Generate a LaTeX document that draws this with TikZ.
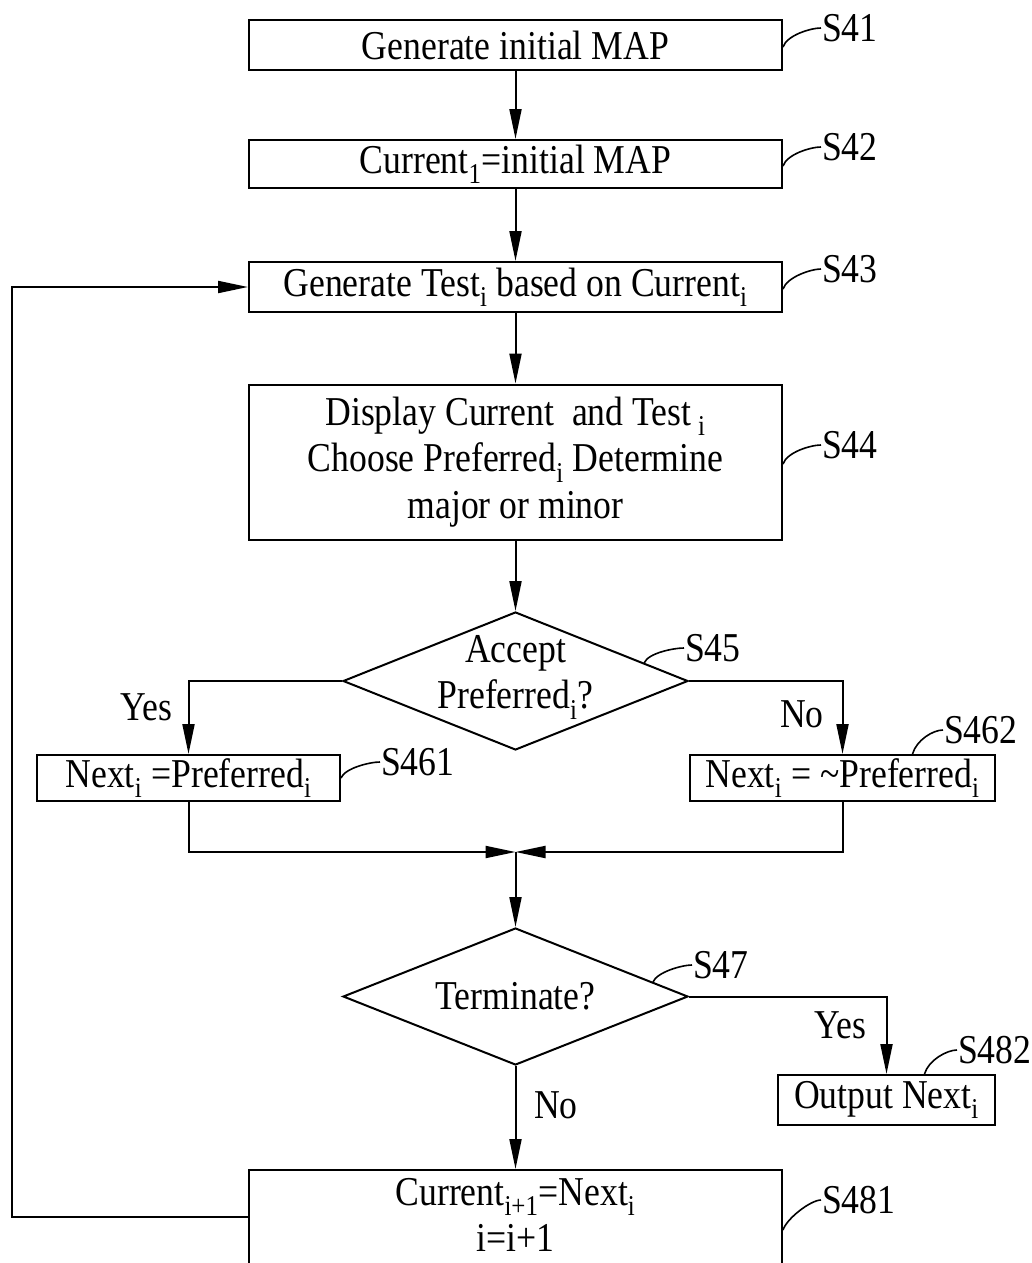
\documentclass[tikz,border=0pt]{standalone}
\usepackage{fontspec}
\setmainfont{Liberation Serif}[FakeStretch=0.87]
\usetikzlibrary{arrows.meta,shapes.geometric}
\newcommand{\ix}[1]{\textsubscript{#1}}

\begin{document}
\begin{tikzpicture}[x=1pt,y=-1pt,line width=2pt,
   font=\fontsize{41}{46.5}\selectfont,
   box/.style={draw,rectangle,minimum width=533pt,inner sep=0pt,align=center},
   dec/.style={draw,diamond,minimum width=345pt,minimum height=138pt,inner sep=0pt},
   arr/.style={-{Triangle[length=30pt,width=12pt]}},
   tag/.style={anchor=west,inner sep=0pt},
   hook/.style={line width=1.6pt}]
   \useasboundingbox (0,0) rectangle (1031,1263);
   % main column
   \node[box,minimum height=50pt] (s41) at (515.5,45) {Generate initial MAP};
   \node[box,minimum height=48pt] (s42) at (515.5,164) {Current\ix{1}=initial MAP};
   \node[box,minimum height=50pt] (s43) at (515.5,287) {Generate Test\ix{i} based on Current\ix{i}};
   \node[box,minimum height=155pt] (s44) at (515.5,462)
      {Display Current~~and Test\,\ix{i}\\Choose Preferred\ix{i} Determine\\major or minor};
   \node[dec] (s45) at (515.5,681) {};
   \node[align=center,inner sep=0pt] (t45) at (515.5,677) {Accept\\Preferred\ix{i}?};
   \node[box,minimum width=303pt,minimum height=46pt] (s461) at (188.5,778) {Next\ix{i} =Preferred\ix{i}};
   \node[box,minimum width=305pt,minimum height=46pt] (s462) at (842.5,778) {Next\ix{i} = \textasciitilde Preferred\ix{i}};
   \coordinate (join) at (515.5,852);
   \node[dec,minimum height=137pt] (s47) at (515.5,996.5) {};
   \node[inner sep=0pt] (t47) at (515.5,996) {Terminate?};
   \node[box,minimum width=217pt,minimum height=50pt] (s482) at (886.5,1100) {Output Next\ix{i}};
   \node[box,minimum height=110pt] (s481) at (515.5,1225)
      {Current\ix{i+1}=Next\ix{i}\\i=i+1\rule[-20pt]{0pt}{0pt}};
   \coordinate (back) at (12,1217);
   % step tags
   \node[tag] (l41) at (821,28) {S41};
   \node[tag] (l42) at (821,147) {S42};
   \node[tag] (l43) at (821,269) {S43};
   \node[tag] (l44) at (821,445) {S44};
   \node[tag] (l45) at (684,648) {S45};
   \node[tag] (l461) at (380,762) {S461};
   \node[tag] (l462) at (943,730) {S462};
   \node[tag] (l47) at (692,965) {S47};
   \node[tag] (l482) at (957,1050) {S482};
   \node[tag] (l481) at (821,1200) {S481};
   \draw[hook] ([yshift=-2pt]s41.east) .. controls +(4,-12) and +(-10,0) .. (l41.west);
   \draw[hook] ([yshift=-2pt]s42.east) .. controls +(4,-12) and +(-10,0) .. (l42.west);
   \draw[hook] ([yshift=-2pt]s43.east) .. controls +(4,-12) and +(-10,0) .. (l43.west);
   \draw[hook] ([yshift=-2pt]s44.east) .. controls +(4,-12) and +(-10,0) .. (l44.west);
   \draw[hook] (s45.8) .. controls +(4,-10) and +(-10,0) .. (l45.west);
   \draw[hook] (s461.east) .. controls +(4,-10) and +(-10,0) .. (l461.west);
   \draw[hook] ([xshift=70pt]s462.north) .. controls +(4,-14) and +(-10,0) .. (l462.west);
   \draw[hook] (s47.6) .. controls +(4,-10) and +(-10,0) .. (l47.west);
   \draw[hook] ([xshift=38pt]s482.north) .. controls +(4,-14) and +(-10,0) .. (l482.west);
   \draw[hook] ([yshift=-5pt]s481.east) .. controls +(4,-12) and +(-10,0) .. (l481.west);
   % flow
   \draw[arr] (s41) -- (s42);
   \draw[arr] (s42) -- (s43);
   \draw[arr] (s43) -- (s44);
   \draw[arr] (s44) -- (s45);
   \draw[arr] (s45.west) -| (s461);
   \draw[arr] (s45.east) -| (s462);
   \draw[arr] (s461) |- (join);
   \draw[arr] (s462) |- (join);
   \draw[arr] (join) -- (s47);
   \draw[arr] (s47.east) -| (s482);
   \draw[arr] (s47) -- (s481);
   \draw[arr] (s481.west |- back) -- (back) |- (s43);
   \node (yes1) at (146,707) {Yes};
   \node (no1) at (802,714) {No};
   \node (yes2) at (840,1025) {Yes};
   \node (no2) at (556,1105) {No};
\end{tikzpicture}
\end{document}
